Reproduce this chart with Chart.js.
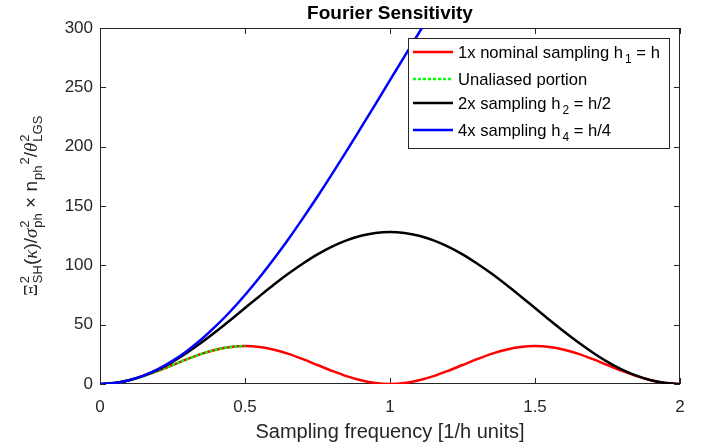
<!DOCTYPE html>
<html>
<head>
<meta charset="utf-8">
<script src="https://cdn.jsdelivr.net/npm/chart.js@4.4.0/dist/chart.umd.min.js"></script>
<style>
  html, body { margin: 0; padding: 0; background: #fff; }
  #wrap { width: 712px; height: 448px; }
</style>
</head>
<body>
<div id="wrap"><canvas id="fourierChart" width="712" height="448"></canvas></div>
<script>
// sampling frequency in 1/h units
const freq = [0, 0.05, 0.1, 0.15, 0.2, 0.25, 0.3, 0.35, 0.4, 0.45, 0.5,
  0.55, 0.6, 0.65, 0.7, 0.75, 0.8, 0.85, 0.9, 0.95, 1,
  1.05, 1.1, 1.15, 1.2, 1.25, 1.3, 1.35, 1.4, 1.45, 1.5,
  1.55, 1.6, 1.65, 1.7, 1.75, 1.8, 1.85, 1.9, 1.95, 2];

// 1x nominal sampling h1 = h
const nominal = [0, 0.8, 3.1, 6.6, 11.1, 16, 20.9, 25.4, 28.9, 31.2, 32,
  31.2, 28.9, 25.4, 20.9, 16, 11.1, 6.6, 3.1, 0.8, 0,
  0.8, 3.1, 6.6, 11.1, 16, 20.9, 25.4, 28.9, 31.2, 32,
  31.2, 28.9, 25.4, 20.9, 16, 11.1, 6.6, 3.1, 0.8, 0];

// unaliased portion (only up to 0.5)
const unaliased = [0, 0.8, 3.1, 6.6, 11.1, 16, 20.9, 25.4, 28.9, 31.2, 32];

// 2x sampling h2 = h/2
const twoX = [0, 0.8, 3.1, 7.0, 12.2, 18.7, 26.4, 34.9, 44.2, 54.0, 64,
  74.0, 83.8, 93.1, 101.6, 109.3, 115.8, 121.0, 124.9, 127.2, 128,
  127.2, 124.9, 121.0, 115.8, 109.3, 101.6, 93.1, 83.8, 74.0, 64,
  54.0, 44.2, 34.9, 26.4, 18.7, 12.2, 7.0, 3.1, 0.8, 0];

// 4x sampling h4 = h/4 (leaves the plot above 300)
const fourX = [0, 0.8, 3.2, 7.1, 12.5, 19.5, 27.9, 37.7, 48.9, 61.3, 75.0,
  89.7, 105.5, 122.2, 139.8, 158.0, 176.9, 196.2, 216.0, 235.9, 256,
  276.1, 296.0, 315.8, 335.1];

const xTicks = [0, 0.5, 1, 1.5, 2];
const yTicks = [0, 50, 100, 150, 200, 250, 300];

const legendLabels = ["1x nominal sampling h_1 = h", "Unaliased portion", "2x sampling h_2 = h/2", "4x sampling h_4 = h/4"];
const axisGray = "#262626";

function toPoints(values) {
  return values.map((v, i) => ({ x: freq[i], y: v }));
}

// draws text where "_c" means c as subscript
function drawSubText(ctx, text, x, y, size) {
  const parts = text.split(/_(.)/);
  for (let i = 0; i < parts.length; i++) {
    if (i % 2 == 1) {
      ctx.font = (size * 0.72) + "px 'Liberation Sans', Arial, sans-serif";
      ctx.fillText(parts[i], x + 2, y + 5);
      x += ctx.measureText(parts[i]).width + 2;
    } else {
      ctx.font = size + "px 'Liberation Sans', Arial, sans-serif";
      ctx.fillText(parts[i], x, y);
      x += ctx.measureText(parts[i]).width;
    }
  }
}

const axesBox = {
  id: "axesBox",
  beforeDatasetsDraw(chart) {
    const { ctx, chartArea: a, scales } = chart;
    ctx.save();
    ctx.strokeStyle = axisGray;
    ctx.lineWidth = 1;
    ctx.strokeRect(a.left + 0.5, a.top + 0.5, a.right - a.left - 1, a.bottom - a.top - 1);
    ctx.beginPath();
    xTicks.forEach((t) => {
      const px = Math.round(scales.x.getPixelForValue(t)) + 0.5;
      ctx.moveTo(px, a.bottom); ctx.lineTo(px, a.bottom - 6);
      ctx.moveTo(px, a.top); ctx.lineTo(px, a.top + 6);
    });
    yTicks.forEach((t) => {
      const py = Math.round(scales.y.getPixelForValue(t)) + 0.5;
      ctx.moveTo(a.left, py); ctx.lineTo(a.left + 6, py);
      ctx.moveTo(a.right, py); ctx.lineTo(a.right - 6, py);
    });
    ctx.stroke();
    ctx.restore();
  },
  afterDatasetsDraw(chart) {
    const { ctx, chartArea: a } = chart;
    ctx.save();
    // title
    ctx.fillStyle = "#000";
    ctx.textAlign = "center";
    ctx.textBaseline = "alphabetic";
    ctx.font = "bold 19px 'Liberation Sans', Arial, sans-serif";
    ctx.fillText("Fourier Sensitivity", (a.left + a.right) / 2, 19);
    // x label
    ctx.fillStyle = axisGray;
    ctx.font = "20px 'Liberation Sans', Arial, sans-serif";
    ctx.fillText("Sampling frequency [1/h units]", (a.left + a.right) / 2, 438);

    // legend box
    const lx = 408, ly = 38, lw = 261, lh = 110;
    ctx.fillStyle = "#fff";
    ctx.fillRect(lx, ly, lw, lh);
    ctx.strokeStyle = axisGray;
    ctx.lineWidth = 1;
    ctx.strokeRect(lx + 0.5, ly + 0.5, lw, lh);
    const rows = [52, 79, 103, 130];
    chart.data.datasets.forEach((ds, i) => {
      ctx.strokeStyle = ds.borderColor;
      ctx.lineWidth = ds.borderWidth;
      ctx.setLineDash(ds.borderDash || []);
      ctx.beginPath();
      ctx.moveTo(413, rows[i]);
      ctx.lineTo(453, rows[i]);
      ctx.stroke();
      ctx.setLineDash([]);
      ctx.fillStyle = "#000";
      ctx.textAlign = "left";
      drawSubText(ctx, legendLabels[i], 458, rows[i] + 6, 16.6);
    });
    ctx.restore();

    // y label with super/subscripts, rotated
    drawYLabel(ctx, 37, (a.top + a.bottom) / 2);
  }
};

function drawYLabel(ctx, cx, cy) {
  const sans = "'Liberation Sans', Arial, sans-serif";
  const serif = "'Liberation Serif', 'DejaVu Serif', serif";
  const big = 19, small = 13;
  // [text, kind, family]  kind: n normal, u sup, d sub, s stacked "sup|sub"
  const parts = [
    ["Ξ", "n", serif], ["2|SH", "s"], ["(", "n", sans], ["κ", "n", "italic " + serif], [")/", "n", sans],
    ["σ", "n", "italic " + serif], ["2|ph", "s"], [" × n", "n", sans], ["ph", "d"], ["2", "u"],
    ["/", "n", sans], ["θ", "n", "italic " + serif], ["2|LGS", "s"]
  ];
  function fontOf(p) {
    if (p[1] == "n") {
      const f = p[2];
      return f.startsWith("italic") ? "italic " + big + "px " + f.slice(7) : big + "px " + f;
    }
    return small + "px " + sans;
  }
  function widthOf(p) {
    ctx.font = fontOf(p);
    if (p[1] == "s") {
      const [u, d] = p[0].split("|");
      return Math.max(ctx.measureText(u).width, ctx.measureText(d).width) + 1;
    }
    return ctx.measureText(p[0]).width + (p[1] == "n" ? 0 : 1);
  }
  let total = 0;
  parts.forEach((p) => (total += widthOf(p)));
  ctx.save();
  ctx.translate(cx, cy);
  ctx.rotate(-Math.PI / 2);
  ctx.fillStyle = axisGray;
  ctx.textAlign = "left";
  ctx.textBaseline = "alphabetic";
  let x = -total / 2;
  parts.forEach((p) => {
    const w = widthOf(p);
    ctx.font = fontOf(p);
    if (p[1] == "n") ctx.fillText(p[0], x, 0);
    else if (p[1] == "u") ctx.fillText(p[0], x + 1, -8);
    else if (p[1] == "d") ctx.fillText(p[0], x + 1, 5);
    else {
      const [u, d] = p[0].split("|");
      ctx.fillText(u, x + 1, -8);
      ctx.fillText(d, x + 1, 5);
    }
    x += w;
  });
  ctx.restore();
}

const ctx = document.getElementById("fourierChart").getContext("2d");
const chart = new Chart(ctx, {
  type: "line",
  data: {
    datasets: [
      { label: legendLabels[0], data: toPoints(nominal), borderColor: "#ff0000", borderWidth: 2.5, order: 3 },
      { label: legendLabels[1], data: toPoints(unaliased), borderColor: "#00ff00", borderWidth: 2.5, borderDash: [3, 2], order: 2 },
      { label: legendLabels[2], data: toPoints(twoX), borderColor: "#000000", borderWidth: 2.5, order: 1 },
      { label: legendLabels[3], data: toPoints(fourX), borderColor: "#0000ff", borderWidth: 2.5, order: 0 },
    ],
  },
  options: {
    responsive: false,
    animation: false,
    layout: { padding: { top: 28, right: 32, left: 0, bottom: 0 } },
    elements: {
      point: { radius: 0 },
      line: { cubicInterpolationMode: "monotone", fill: false },
    },
    plugins: {
      legend: { display: false },
      title: { display: false },
      tooltip: { enabled: false },
    },
    scales: {
      x: {
        type: "linear",
        min: 0,
        max: 2,
        afterBuildTicks: (s) => { s.ticks = xTicks.map((v) => ({ value: v })); },
        afterFit: (s) => { s.height = 64; },
        grid: { display: false, drawTicks: false },
        border: { display: false },
        ticks: {
          color: axisGray,
          padding: 13,
          callback: (v) => String(v),
          font: { size: 17, family: "'Liberation Sans', Arial, sans-serif" },
        },
      },
      y: {
        min: 0,
        max: 300,
        afterBuildTicks: (s) => { s.ticks = yTicks.map((v) => ({ value: v })); },
        afterFit: (s) => { s.width = 100; },
        grid: { display: false, drawTicks: false },
        border: { display: false },
        ticks: { color: axisGray, padding: 7, font: { size: 17, family: "'Liberation Sans', Arial, sans-serif" } },
      },
    },
  },
  plugins: [axesBox],
});
</script>
</body>
</html>
